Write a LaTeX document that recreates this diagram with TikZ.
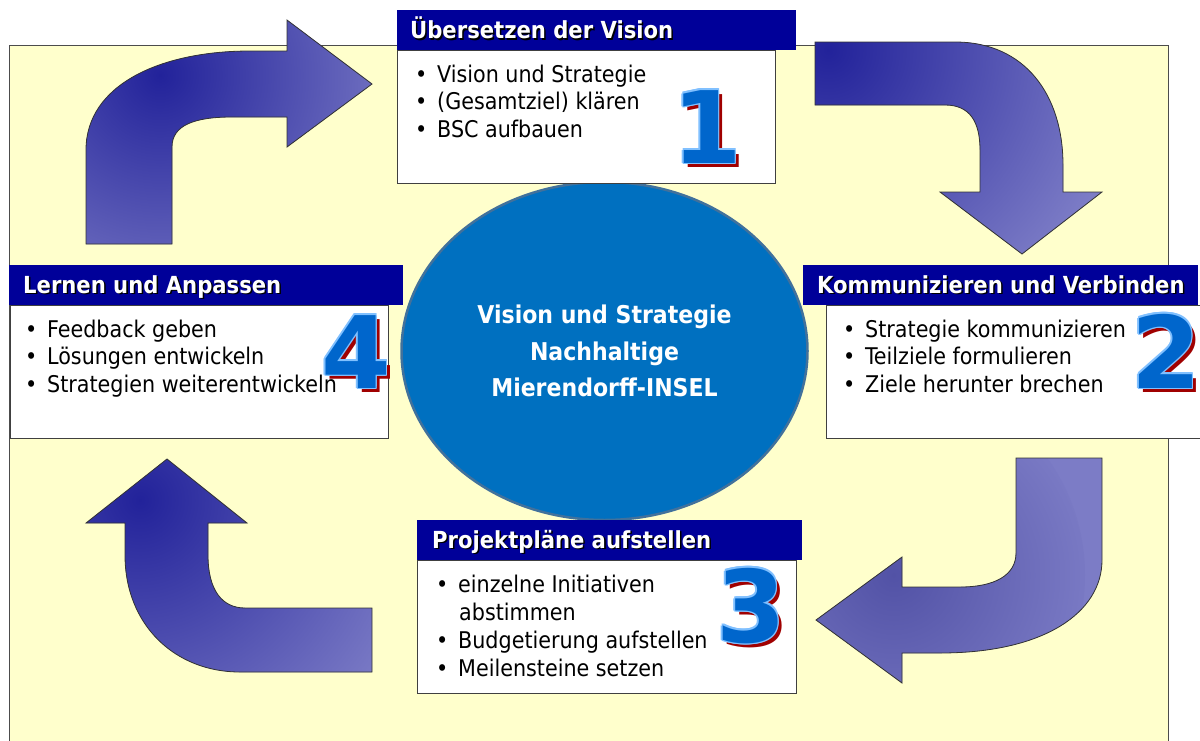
\documentclass[tikz,border=0pt]{standalone}
\usepackage{fontspec}
\setmainfont{DejaVu Sans Condensed}
\newfontfamily\digitfamily{DejaVu Sans}
\usetikzlibrary{shapes.geometric}

\definecolor{paper}{HTML}{FFFFCC}
\definecolor{navy}{HTML}{000099}
\definecolor{hubfill}{HTML}{0070C0}
\definecolor{hubedge}{HTML}{41719C}
\definecolor{arrowdark}{HTML}{22229A}
\definecolor{arrowmid}{HTML}{5252A6}
\definecolor{arrowlight}{HTML}{7C7CC6}
\definecolor{digitblue}{HTML}{0066CC}
\definecolor{digitrim}{HTML}{80C0FF}
\definecolor{digitshadow}{HTML}{A00000}

\newcommand\bscItem{\fontsize{23}{27.5}\selectfont}
\newcommand\bscTitle{\fontsize{23.5}{27}\selectfont\bfseries}
\newcommand\bscHub{\fontsize{24.5}{36.5}\selectfont\bfseries}
\newcommand\bscDigit{\digitfamily\fontsize{100}{100}\selectfont\bfseries}
\newcommand\dropshadow[1]{\makebox[0pt][l]{\kern1.5pt\raisebox{-1.5pt}{\textcolor{black}{#1}}}#1}
\newcommand\bul{\hbox to 22pt{\textbullet\hfil}}

% big stage number: red drop shadow, light rim, blue face
\newcommand\stagenum[4]{%
  \node[digit, text=digitshadow] at (#2,#3) [xshift=4pt, yshift=-4pt] {#4};
  \foreach \dx/\dy in {-1.6/0, 1.6/0, 0/-1.6, 0/1.6, -1.1/-1.1, 1.1/1.1, -1.1/1.1, 1.1/-1.1}
    \node[digit, text=digitrim] at (#2,#3) [xshift=\dx pt, yshift=\dy pt] {#4};
  \node[digit, text=digitblue] (#1) at (#2,#3) {#4};
}

\begin{document}
\begin{tikzpicture}[x=1pt, y=-1pt,
  backdrop/.style={fill=paper, draw=black!70, line width=1pt},
  bentarrow/.style={fill=arrowlight, draw=black!80, line width=0.8pt, line join=miter},
  panel/.style={fill=white, draw=black!75, line width=1.2pt, inner sep=0pt, anchor=north west},
  headbar/.style={fill=navy, inner sep=0pt, minimum height=40pt, anchor=north west},
  headtitle/.style={text=white, font=\bscTitle, anchor=base west, inner sep=0pt},
  item/.style={font=\bscItem, anchor=base west, inner sep=0pt},
  hub/.style={ellipse, fill=hubfill, draw=hubedge, line width=2.5pt, inner sep=0pt,
    minimum width=406pt, minimum height=338pt, text=white, font=\bscHub, align=center},
  digit/.style={font=\bscDigit, anchor=base, inner sep=0pt}]

\useasboundingbox (0,0) rectangle (1200,740);
\fill[white] (0,0) rectangle (1200,740);
\path[backdrop] (9,45) rectangle (1168,770);

% bent arrows
\path[bentarrow, path picture={\shade[inner color=arrowdark, outer color=arrowlight] (160,75) circle (260);}]
  (86,244) -- (86,150) .. controls (86,85) and (160,51) .. (250,51) -- (287,51) -- (287,20)
  -- (372,84) -- (287,147) -- (287,117) -- (232,117) .. controls (195,117) and (172,125) .. (172,147)
  -- (172,244) -- cycle;

\path[bentarrow, path picture={\shade[inner color=arrowdark, outer color=arrowlight] (828,50) circle (300);}]
  (815,42) -- (955,42) .. controls (1025,42) and (1063,95) .. (1063,165) -- (1063,192) -- (1102,192)
  -- (1022,254) -- (940,192) -- (980,192) -- (980,150) .. controls (980,122) and (970,105) .. (945,105)
  -- (815,105) -- cycle;

\path[bentarrow, path picture={\shade[inner color=arrowmid, outer color=arrowlight] (885,575) circle (200);}]
  (1016,458) -- (1102,458) -- (1102,560) .. controls (1102,612) and (1045,653) .. (940,653)
  -- (902,653) -- (902,683) -- (816,620) -- (902,557) -- (902,587) -- (960,587)
  .. controls (995,587) and (1016,575) .. (1016,553) -- cycle;

\path[bentarrow, path picture={\shade[inner color=arrowdark, outer color=arrowlight] (140,500) circle (300);}]
  (372,608) -- (245,608) .. controls (222,608) and (208,590) .. (208,555) -- (208,523) -- (247,523)
  -- (167,459) -- (86,523) -- (125,523) -- (125,555) .. controls (125,625) and (175,672) .. (240,672)
  -- (372,672) -- cycle;

% centre
\node[hub] (hub) at (604.5,351) {Vision und Strategie\\Nachhaltige\\Mierendorff-INSEL};

% 1: Übersetzen der Vision
\node[panel, minimum width=378pt, minimum height=133pt] (b1) at (397,50) {};
\node[headbar, minimum width=399pt] (h1) at (397,10) {};
\node[headtitle] (t1) at (410,38.5) {\dropshadow{Übersetzen der Vision}};
\node[item] (i11) at (415,82) {\bul Vision und Strategie};
\node[item] (i12) at (415,109.5) {\bul (Gesamtziel) klären};
\node[item] (i13) at (415,137) {\bul BSC aufbauen};
\stagenum{n1}{707}{163}{1}

% 2: Kommunizieren und Verbinden
\node[panel, minimum width=380pt, minimum height=133pt] (b2) at (826,305) {};
\node[headbar, minimum width=395pt] (h2) at (803,265) {};
\node[headtitle] (t2) at (817,293) {\dropshadow{Kommunizieren und Verbinden}};
\node[item] (i21) at (843,337) {\bul Strategie kommunizieren};
\node[item] (i22) at (843,364.5) {\bul Teilziele formulieren};
\node[item] (i23) at (843,392) {\bul Ziele herunter brechen};
\stagenum{n2}{1166}{388}{2}

% 3: Projektpläne aufstellen
\node[panel, minimum width=379pt, minimum height=133pt] (b3) at (417,560) {};
\node[headbar, minimum width=385pt] (h3) at (417,520) {};
\node[headtitle] (t3) at (432,548) {\dropshadow{Projektpläne aufstellen}};
\node[item] (i31) at (436,592) {\bul einzelne Initiativen};
\node[item] (i32) at (459,620) {abstimmen};
\node[item] (i33) at (436,648) {\bul Budgetierung aufstellen};
\node[item] (i34) at (436,676) {\bul Meilensteine setzen};
\stagenum{n3}{751}{642}{3}

% 4: Lernen und Anpassen
\node[panel, minimum width=378pt, minimum height=133pt] (b4) at (10,305) {};
\node[headbar, minimum width=394pt] (h4) at (9,265) {};
\node[headtitle] (t4) at (23,293) {\dropshadow{Lernen und Anpassen}};
\node[item] (i41) at (25,337) {\bul Feedback geben};
\node[item] (i42) at (25,364.5) {\bul Lösungen entwickeln};
\node[item] (i43) at (25,392) {\bul Strategien weiterentwickeln};
\stagenum{n4}{356}{388}{4}

\end{tikzpicture}
\end{document}
